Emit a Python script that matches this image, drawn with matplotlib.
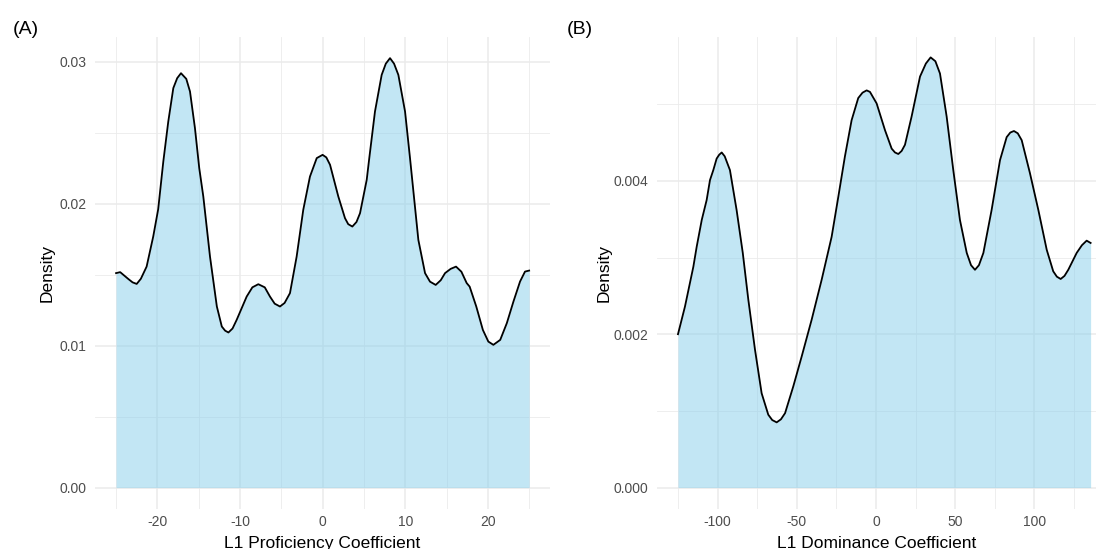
import numpy as np
import matplotlib
matplotlib.use('Agg')
import matplotlib.pyplot as plt
from matplotlib.ticker import FixedLocator, FormatStrFormatter

# ============================================================
# Datos (curvas de densidad)
# ============================================================
# (A) L1 Proficiency Coefficient
prof_x = [-25.0, -24.5, -23.5, -23.0, -22.5, -22.0, -21.3, -20.5, -19.9,
          -19.28, -18.68, -18.07, -17.6, -17.14, -16.5, -16.05, -15.45,
          -14.93, -14.44, -13.63, -12.8, -12.2, -11.8, -11.4, -10.9, -10.4,
          -9.19, -8.5, -7.78, -7.0, -6.37, -5.8, -5.16, -4.6, -3.95, -3.14,
          -2.34, -1.53, -0.71, 0.0, 0.45, 0.9, 1.9, 2.71, 3.1, 3.6, 4.1,
          4.53, 5.34, 5.65, 6.34, 7.15, 7.65, 8.16, 8.65, 9.17, 9.98, 10.58,
          11.59, 12.4, 13.0, 13.69, 14.3, 14.82, 15.5, 16.15, 16.8, 17.44,
          17.8, 18.6, 19.4, 20.06, 20.67, 21.5, 22.3, 23.1, 23.9, 24.5, 25.0]
prof_y = [0.01510, 0.01517, 0.01468, 0.01445, 0.01434, 0.01470, 0.01556,
          0.01768, 0.01960, 0.02296, 0.02577, 0.02813, 0.02883, 0.02918,
          0.02878, 0.02789, 0.02531, 0.02249, 0.02050, 0.01627, 0.01275,
          0.01134, 0.01105, 0.01092, 0.01120, 0.01181, 0.01345, 0.01410,
          0.01432, 0.01410, 0.01345, 0.01295, 0.01275, 0.01300, 0.01369,
          0.01627, 0.01956, 0.02190, 0.02320, 0.02343, 0.02325, 0.02273,
          0.02050, 0.01897, 0.01855, 0.01838, 0.01870, 0.01932, 0.02167,
          0.02320, 0.02648, 0.02906, 0.02985, 0.03024, 0.02985, 0.02906,
          0.02648, 0.02320, 0.01744, 0.01510, 0.01450, 0.01427, 0.01460,
          0.01510, 0.01540, 0.01556, 0.01520, 0.01440, 0.01415, 0.01275,
          0.01110, 0.01028, 0.01005, 0.01040, 0.01158, 0.01310, 0.01451,
          0.01521, 0.01528]

# (B) L1 Dominance Coefficient
dom_x = [-125.0, -120.6, -115.3, -113.2, -110.0, -106.9, -104.8, -102.7,
         -100.6, -99.0, -97.4, -95.5, -92.2, -88.0, -84.1, -80.6, -76.4,
         -72.2, -68.0, -65.5, -62.7, -60.0, -57.4, -52.2, -46.9, -40.6,
         -34.3, -28.0, -23.8, -19.6, -15.4, -11.2, -8.5, -5.9, -3.8, 0.4,
         5.7, 9.9, 12.0, 14.1, 16.2, 18.3, 22.5, 27.8, 31.5, 34.5, 37.5,
         40.4, 44.6, 48.8, 53.0, 57.3, 60.0, 62.5, 65.0, 67.8, 73.0, 78.3,
         82.5, 84.8, 87.1, 89.5, 92.0, 97.2, 102.5, 107.8, 111.9, 114.2,
         116.6, 119.0, 121.4, 126.7, 130.0, 133.0, 135.5]
dom_y = [0.00200, 0.00236, 0.00288, 0.00314, 0.00349, 0.00375, 0.00401,
         0.00414, 0.00429, 0.00434, 0.00437, 0.00432, 0.00414, 0.00362,
         0.00306, 0.00245, 0.00180, 0.00123, 0.00095, 0.00088, 0.00085,
         0.00089, 0.00097, 0.00132, 0.00171, 0.00219, 0.00271, 0.00327,
         0.00379, 0.00432, 0.00479, 0.00508, 0.00515, 0.00518, 0.00516,
         0.00501, 0.00466, 0.00442, 0.00437, 0.00435, 0.00439, 0.00447,
         0.00484, 0.00536, 0.00553, 0.00561, 0.00556, 0.00540, 0.00484,
         0.00414, 0.00349, 0.00306, 0.00290, 0.00284, 0.00290, 0.00306,
         0.00362, 0.00427, 0.00457, 0.00463, 0.00465, 0.00462, 0.00453,
         0.00410, 0.00362, 0.00310, 0.00282, 0.00275, 0.00272, 0.00276,
         0.00284, 0.00306, 0.00316, 0.00322, 0.00319]

# ticks y grid (estilo ggplot theme_minimal)
prof_xticks = [-20, -10, 0, 10, 20]
prof_xminor = [-25, -15, -5, 5, 15, 25]
prof_yticks = [0.00, 0.01, 0.02, 0.03]
prof_yminor = [0.005, 0.015, 0.025]

dom_xticks = [-100, -50, 0, 50, 100]
dom_xminor = [-125, -75, -25, 25, 75, 125]
dom_yticks = [0.000, 0.002, 0.004]
dom_yminor = [0.001, 0.003, 0.005]

# ============================================================
# Figura
# ============================================================
plt.rcParams['font.family'] = ['Liberation Sans', 'DejaVu Sans']
plt.rcParams['axes.unicode_minus'] = False

W, H = 1096, 549
fig = plt.figure(figsize=(W / 100, H / 100), dpi=100)

# posiciones en pixeles -> fraccion de figura
top_px, bot_px = 36.7, 509.0
axA = fig.add_axes([95.4 / W, 1 - bot_px / H, (549.8 - 95.4) / W, (bot_px - top_px) / H])
axB = fig.add_axes([657.4 / W, 1 - bot_px / H, (W - 657.4) / W, (bot_px - top_px) / H])

FILL = '#87CEEB'
GRID = '#EBEBEB'


def style_panel(ax, xt, xm, yt, ym, yfmt, xlab, ylab_x):
    ax.set_axisbelow(True)
    ax.xaxis.set_major_locator(FixedLocator(xt))
    ax.xaxis.set_minor_locator(FixedLocator(xm))
    ax.yaxis.set_major_locator(FixedLocator(yt))
    ax.yaxis.set_minor_locator(FixedLocator(ym))
    ax.yaxis.set_major_formatter(FormatStrFormatter(yfmt))
    ax.xaxis.set_major_formatter(FormatStrFormatter('%d'))
    ax.grid(True, which='major', color=GRID, linewidth=1.1)
    ax.grid(True, which='minor', color=GRID, linewidth=0.6)
    for s in ax.spines.values():
        s.set_visible(False)
    ax.tick_params(which='both', length=0)
    ax.tick_params(axis='x', pad=4.0, labelsize=10, labelcolor='#4D4D4D')
    ax.tick_params(axis='y', pad=6.5, labelsize=10, labelcolor='#4D4D4D')
    ax.set_xlabel(xlab, fontsize=12.5, color='black')
    ax.xaxis.label.set_va('baseline')
    ax.xaxis.set_label_coords(0.5, (bot_px - 548) / (bot_px - top_px))
    ax.set_ylabel('Density', fontsize=12.5, color='black')
    ax.yaxis.label.set_va('center')
    ax.yaxis.set_label_coords(ylab_x, 0.5)


# Panel A
axA.fill_between(prof_x, prof_y, 0, color=FILL, alpha=0.5, linewidth=0, zorder=2)
axA.plot(prof_x, prof_y, color='black', linewidth=1.3, zorder=3,
         solid_joinstyle='round')
axA.set_xlim(-27.5, 27.5)
axA.set_ylim(-0.00151, 0.03175)
style_panel(axA, prof_xticks, prof_xminor, prof_yticks, prof_yminor, '%.2f',
            'L1 Proficiency Coefficient', (47 - 95.4) / (549.8 - 95.4))

# Panel B
axB.fill_between(dom_x, dom_y, 0, color=FILL, alpha=0.5, linewidth=0, zorder=2)
axB.plot(dom_x, dom_y, color='black', linewidth=1.3, zorder=3,
         solid_joinstyle='round')
axB.set_xlim(-138.0, 138.9)
axB.set_ylim(-0.00028, 0.00588)
style_panel(axB, dom_xticks, dom_xminor, dom_yticks, dom_yminor, '%.3f',
            'L1 Dominance Coefficient', (604 - 657.4) / (W - 657.4))

# etiquetas de panel
fig.text(12.5 / W, 1 - 29 / H, '(A)', fontsize=14, ha='left', va='center')
fig.text(567 / W, 1 - 29 / H, '(B)', fontsize=14, ha='left', va='center')

fig.savefig('out.png', dpi=100)
